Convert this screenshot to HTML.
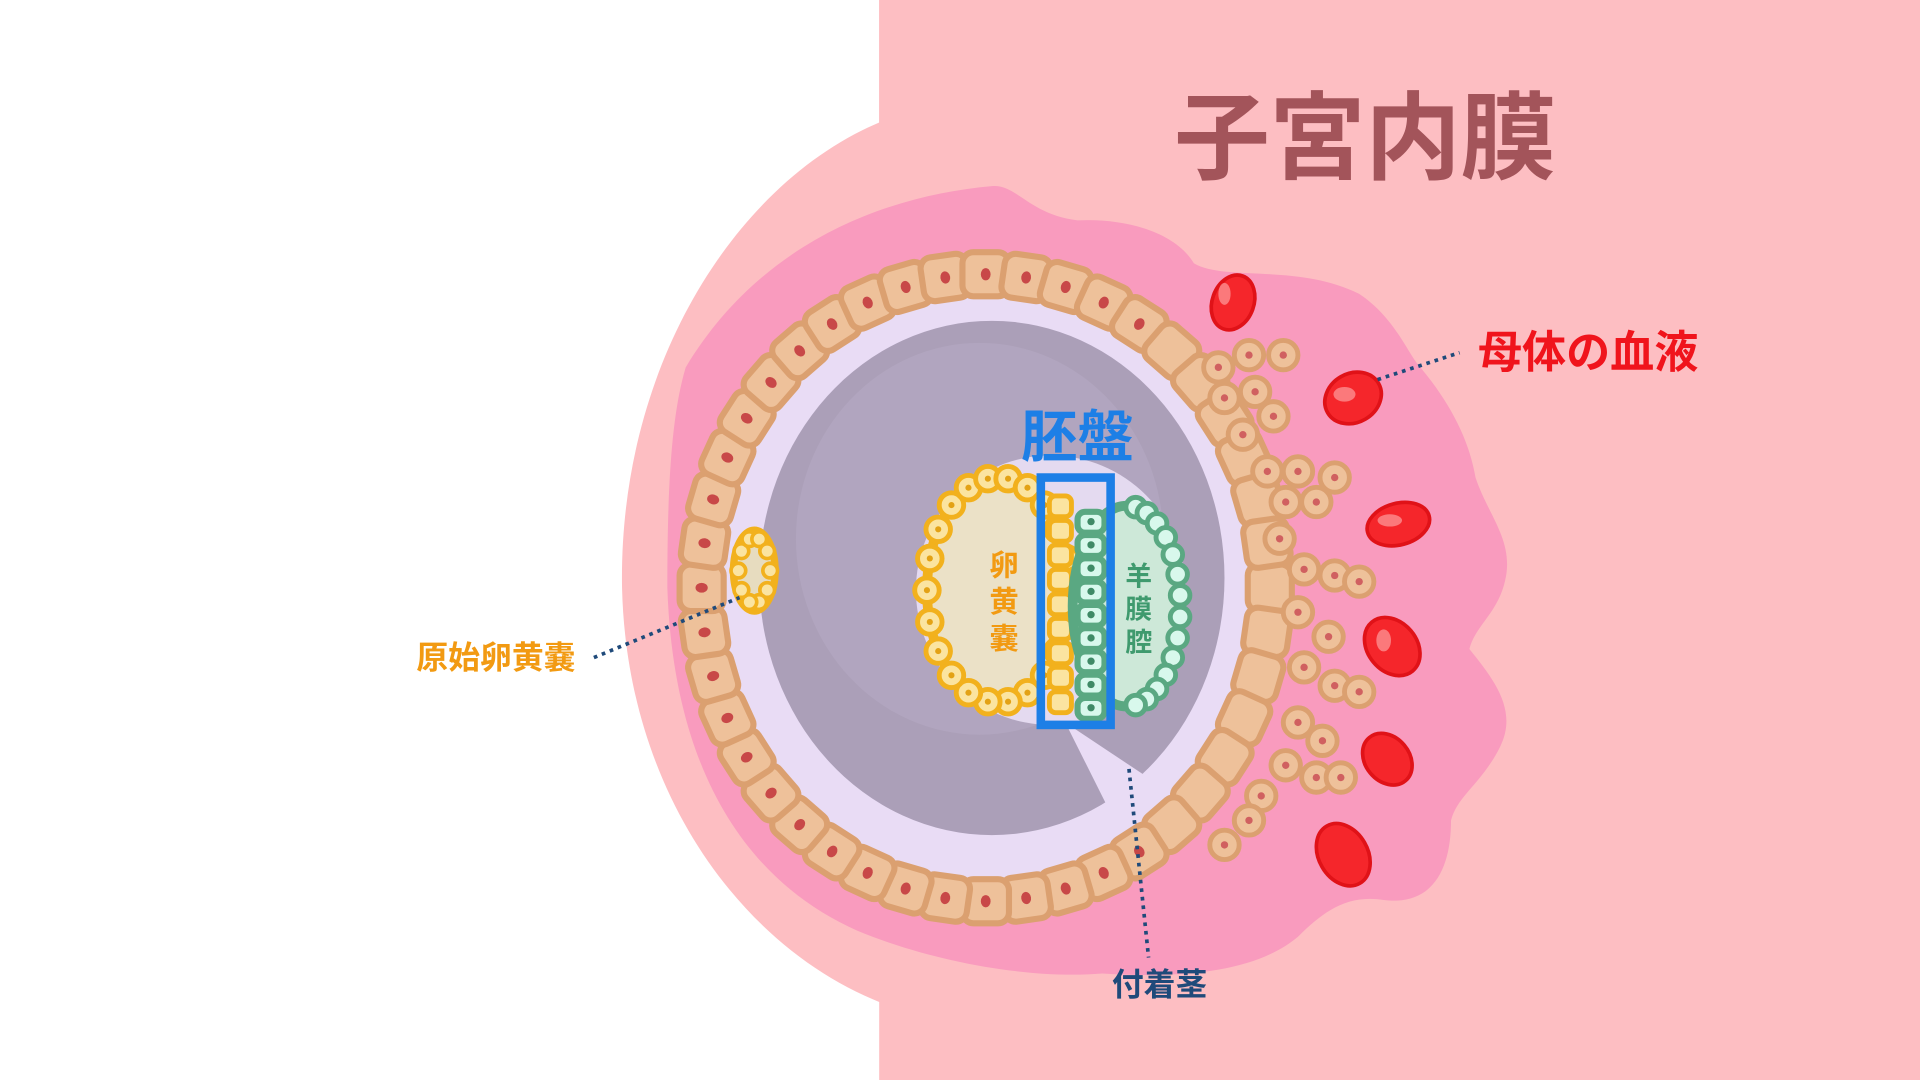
<!DOCTYPE html>
<html><head><meta charset="utf-8"><style>
html,body{margin:0;padding:0;background:#fff;width:1920px;height:1080px;overflow:hidden}
svg{display:block}
text{font-family:"Liberation Sans","Noto Sans CJK JP",sans-serif;font-weight:bold}
</style></head><body>
<svg id="s" width="1920" height="1080" viewBox="0 0 1568 882" preserveAspectRatio="none">
<rect width="1568" height="882" fill="#fff"/>
<rect x="718" y="0" width="850" height="882" fill="#fdbec2"/>
<path d="M718 0 L718 100 C600 150 505 300 508 480 C512 650 610 780 728 822 L728 882 L800 882 L800 0 Z" fill="#fdbec2"/>
<path d="M560 300 C620 200 720 160 810 152 C830 150 840 175 880 180 C920 178 960 190 975 215 C1000 230 1060 215 1110 240 C1140 260 1150 290 1160 300 C1185 330 1200 360 1205 390 C1215 420 1235 440 1230 470 C1225 500 1205 510 1200 530 C1220 555 1240 580 1225 610 C1210 640 1190 650 1185 670 C1185 710 1170 740 1130 735 C1100 730 1080 745 1060 765 C1030 790 980 800 900 795 C840 800 760 785 700 760 C610 720 550 630 545 480 C545 400 548 340 560 300 Z" fill="#f99bbe"/>
<ellipse cx="805" cy="480" rx="248" ry="272" fill="#e9dcf5"/>
<g id="cells"></g>
<ellipse cx="810" cy="472" rx="190" ry="210" fill="#ab9fb8"/>
<ellipse cx="800" cy="440" rx="150" ry="160" fill="#b6aac3" opacity="0.6"/>
<path d="M870 590 L945 640 L915 680 Z" fill="#e9dcf5"/>
<ellipse cx="858" cy="482" rx="110" ry="110" fill="#e4daf0"/>
<ellipse cx="815" cy="482" rx="58" ry="92" fill="#ebe1c7" stroke="#f2b11d" stroke-width="8"/>
<g id="yolk"></g>
<ellipse cx="920" cy="495" rx="44" ry="82" fill="#cde8d8" stroke="#5aa882" stroke-width="8"/>
<g id="amn"></g>
<g id="prim"></g>
<rect x="850" y="390" width="57" height="202" fill="none" stroke="#1d7fe6" stroke-width="7"/>
<g id="blood" fill="#f5262b" stroke="#e01218" stroke-width="3">
<ellipse cx="1007" cy="247" rx="17" ry="23" transform="rotate(20 1007 247)"/>
<ellipse cx="1105" cy="325" rx="24" ry="20" transform="rotate(-30 1105 325)"/>
<ellipse cx="1142" cy="428" rx="26" ry="17" transform="rotate(-15 1142 428)"/>
<ellipse cx="1137" cy="528" rx="20" ry="26" transform="rotate(-40 1137 528)"/>
<ellipse cx="1133" cy="620" rx="18" ry="23" transform="rotate(-40 1133 620)"/>
<ellipse cx="1097" cy="698" rx="20" ry="27" transform="rotate(-30 1097 698)"/>
</g>
<g fill="#ffb0b0" opacity="0.6">
<ellipse cx="1000" cy="240" rx="5" ry="9"/><ellipse cx="1098" cy="322" rx="9" ry="6"/><ellipse cx="1135" cy="425" rx="10" ry="5"/><ellipse cx="1130" cy="523" rx="6" ry="9"/>
</g>
<line x1="1125" y1="310" x2="1192" y2="288" stroke="#1f4a7a" stroke-width="3" stroke-dasharray="3 4"/>
<line x1="485" y1="537" x2="604" y2="488" stroke="#1f4a7a" stroke-width="3" stroke-dasharray="3 4"/>
<line x1="922" y1="628" x2="938" y2="782" stroke="#1f4a7a" stroke-width="3" stroke-dasharray="3 4"/>
<text x="1115" y="140" font-size="78" fill="#a3545a" text-anchor="middle">子宮内膜</text>
<text x="1297" y="300" font-size="36" fill="#f0141c" text-anchor="middle">母体の血液</text>
<text x="880" y="373" font-size="46" fill="#1d7fe6" text-anchor="middle">胚盤</text>
<text x="405" y="546" font-size="26" fill="#f29a12" text-anchor="middle">原始卵黄嚢</text>
<text x="947" y="813" font-size="26" fill="#1f4a7a" text-anchor="middle">付着茎</text>
<g font-size="24" fill="#f29a12" text-anchor="middle"><text x="820" y="470">卵</text><text x="820" y="500">黄</text><text x="820" y="530">嚢</text></g>
<g font-size="22" fill="#3f9a6e" text-anchor="middle"><text x="930" y="478">羊</text><text x="930" y="505">膜</text><text x="930" y="532">腔</text></g>
</svg>
<script>
var NS="http://www.w3.org/2000/svg";
function el(p,t,a){var e=document.createElementNS(NS,t);for(var k in a)e.setAttribute(k,a[k]);p.appendChild(e);return e;}
var g=document.getElementById("cells");
// trophoblast ring
var cx=805,cy=480,rx=232,ry=256,n=44;
for(var i=0;i<n;i++){var a=i/n*2*Math.PI;var x=cx+rx*Math.cos(a),y=cy+ry*Math.sin(a);
var deg=a*180/Math.PI+90;
var gg=el(g,"g",{transform:"translate("+x+" "+y+") rotate("+deg+")"});
el(gg,"rect",{x:-19,y:-18,width:38,height:36,rx:9,fill:"#eec19a",stroke:"#dba070","stroke-width":5});
if(Math.cos(a)<0.55) el(gg,"ellipse",{cx:0,cy:0,rx:4,ry:5,fill:"#c84848"});}
// small clusters on right
var cl=[[995,300],[1020,290],[1048,290],[1000,325],[1025,320],[1040,340],[1015,355],[1035,385],[1060,385],[1090,390],[1050,410],[1075,410],[1045,440],[1065,465],[1090,470],[1110,475],[1060,500],[1085,520],[1065,545],[1090,560],[1110,565],[1060,590],[1080,605],[1050,625],[1075,635],[1095,635],[1030,650],[1020,670],[1000,690]];
cl.forEach(function(p){el(g,"circle",{cx:p[0],cy:p[1],r:12,fill:"#eec19a",stroke:"#dba070","stroke-width":4});el(g,"circle",{cx:p[0],cy:p[1],r:3,fill:"#d06060"});});
// yolk cells
var y=document.getElementById("yolk");
for(var i=0;i<22;i++){var a=i/22*2*Math.PI;var x=815+58*Math.cos(a),yy=482+92*Math.sin(a);
el(y,"ellipse",{cx:x,cy:yy,rx:10,ry:10,fill:"#fbe4a0",stroke:"#f2b11d","stroke-width":4});el(y,"circle",{cx:x,cy:yy,r:2.5,fill:"#e3a215"});}
for(var j=0;j<9;j++){var yy=405+j*20;el(y,"rect",{x:857,y:yy,width:18,height:17,rx:5,fill:"#fbe4a0",stroke:"#f2b11d","stroke-width":4});}
var am=document.getElementById("amn");
for(var j=0;j<9;j++){var yy=418+j*19;el(am,"rect",{x:880,y:yy,width:22,height:17,rx:6,fill:"#d8f8ec",stroke:"#5aa882","stroke-width":5});el(am,"circle",{cx:891,cy:yy+8,r:3,fill:"#3f8a66"});}
for(var i=0;i<14;i++){var a=-1.4+i/13*2.8;var x=920+44*Math.cos(a),yy=495+82*Math.sin(a);
el(am,"circle",{cx:x,cy:yy,r:8,fill:"#d8f8ec",stroke:"#5aa882","stroke-width":4});}
var pr=document.getElementById("prim");
el(pr,"ellipse",{cx:616,cy:466,rx:17,ry:33,fill:"#e7dcbf",stroke:"#f2b11d","stroke-width":6});
for(var i=0;i<10;i++){var a=i/10*2*Math.PI;el(pr,"circle",{cx:616+13*Math.cos(a),cy:466+27*Math.sin(a),r:6,fill:"#fbe4a0",stroke:"#f2b11d","stroke-width":3});}
</script>
</body></html>
